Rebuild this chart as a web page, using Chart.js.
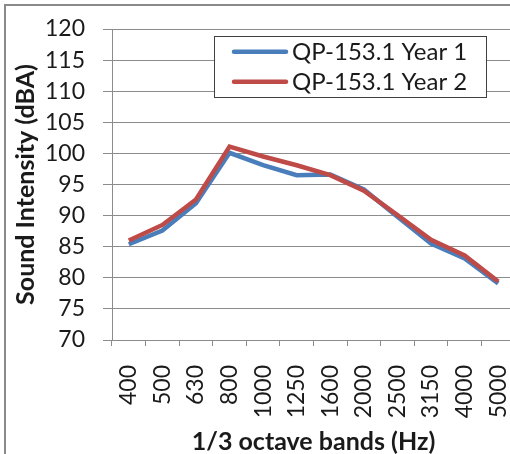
<!DOCTYPE html>
<html>
<head>
<meta charset="utf-8">
<script src="https://cdn.jsdelivr.net/npm/chart.js@4.4.1/dist/chart.umd.min.js"></script>
<style>
  html, body { margin: 0; padding: 0; background: #fff; overflow: hidden; }
  #c { position: absolute; left: 0; top: 0; }
</style>
</head>
<body>
<canvas id="c" width="524" height="460"></canvas>
<script>
const categories = ['400','500','630','800','1000','1250','1600','2000','2500','3150','4000','5000'];
const year1 = [85.4, 87.6, 92.0, 100.1, 98.1, 96.5, 96.6, 94.2, 89.8, 85.5, 83.1, 79.1];
const year2 = [86.0, 88.5, 92.6, 101.1, 99.5, 98.1, 96.5, 94.0, 90.1, 86.1, 83.6, 79.4];
const seriesNames = ['QP-153.1 Year 1', 'QP-153.1 Year 2'];
const yMin = 70, yMax = 120, yStep = 5;
const xTitle = '1/3 octave bands (Hz)';
const yTitle = 'Sound Intensity (dBA)';

const FONT = 'Lato, "Open Sans", sans-serif';
const GRID = '#8c8c8c';

const frame = {
  id: 'frame',
  beforeDraw(chart) {
    const ctx = chart.ctx;
    ctx.save();
    ctx.fillStyle = '#fff';
    ctx.fillRect(0, 0, chart.width, chart.height);
    ctx.fillStyle = '#8a8a8a';
    ctx.fillRect(4, 4, chart.width, 2);
    ctx.fillRect(4, 4, 2, chart.height);
    ctx.restore();
  }
};

const boxLegend = {
  id: 'boxLegend',
  afterDraw(chart) {
    const ctx = chart.ctx;
    const x0 = 214, y0 = 36, w = 272, h = 61;
    ctx.save();
    ctx.fillStyle = '#fff';
    ctx.fillRect(x0, y0, w, h);
    ctx.strokeStyle = '#404040';
    ctx.lineWidth = 1;
    ctx.strokeRect(x0 + 0.5, y0 + 0.5, w, h);
    const rows = [51.7, 81.7];
    chart.data.datasets.forEach((ds, i) => {
      const y = rows[i];
      ctx.strokeStyle = ds.borderColor;
      ctx.lineWidth = 4.5;
      ctx.lineCap = 'round';
      ctx.beginPath();
      ctx.moveTo(234, y);
      ctx.lineTo(286, y);
      ctx.stroke();
      ctx.fillStyle = '#1a1a1a';
      ctx.font = '24px ' + FONT;
      ctx.textBaseline = 'middle';
      ctx.textAlign = 'left';
      ctx.fillText(ds.label, 292, y + 1);
    });
    ctx.restore();
  }
};

new Chart(document.getElementById('c'), {
  type: 'line',
  data: {
    labels: categories,
    datasets: [
      { label: seriesNames[0], data: year1, borderColor: '#4a7ebb', backgroundColor: '#4a7ebb',
        borderWidth: 4.5, pointRadius: 0, tension: 0, order: 1 },
      { label: seriesNames[1], data: year2, borderColor: '#be4b48', backgroundColor: '#be4b48',
        borderWidth: 4.5, pointRadius: 0, tension: 0, order: 0 }
    ]
  },
  options: {
    responsive: false,
    animation: false,
    devicePixelRatio: 1,
    layout: { padding: { top: 29, right: 9, bottom: 0, left: 6 } },
    plugins: { legend: { display: false }, tooltip: { enabled: false } },
    scales: {
      x: {
        offset: true,
        grid: { offset: true, drawOnChartArea: false, drawTicks: true, tickLength: 6, color: GRID, lineWidth: 1 },
        border: { color: GRID, width: 1 },
        ticks: { minRotation: 90, maxRotation: 90, padding: 19, color: '#1a1a1a', font: { family: FONT, size: 23 }, autoSkip: false },
        title: { display: true, text: xTitle, color: '#1a1a1a', font: { family: FONT, size: 25, weight: 'bold' }, padding: { top: 0, bottom: 3 } },
        afterFit(s) { s.height = 120; s.paddingLeft = 0; s.paddingRight = 0; }
      },
      y: {
        min: yMin, max: yMax,
        grid: { color: GRID, lineWidth: 1, drawTicks: true, tickLength: 9 },
        border: { color: GRID, width: 1 },
        ticks: { stepSize: yStep, padding: 18, color: '#1a1a1a', font: { family: FONT, size: 23 } },
        title: { display: true, text: yTitle, color: '#1a1a1a', font: { family: FONT, size: 25, weight: 'bold' }, padding: { top: 5, bottom: 0 } },
        afterFit(s) { s.width = 106; s.paddingTop = 0; s.paddingBottom = 0; }
      }
    }
  },
  plugins: [frame, boxLegend]
});
</script>
</body>
</html>
